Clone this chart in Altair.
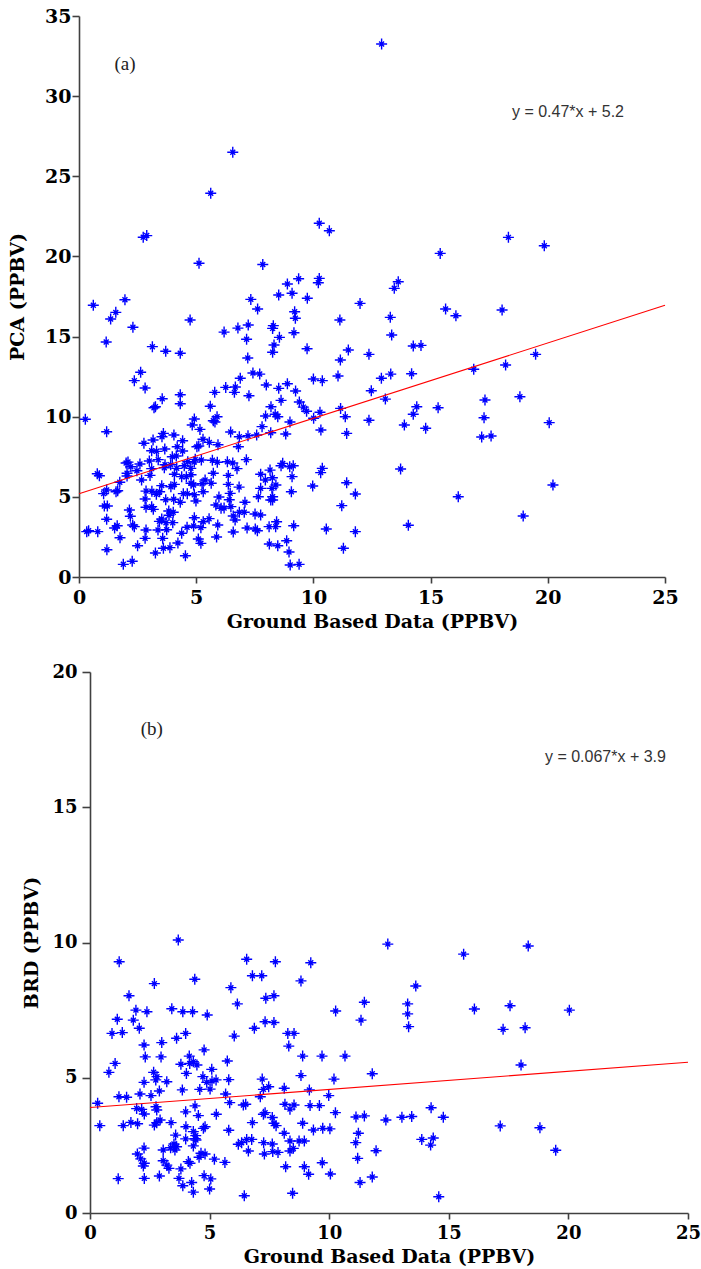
import altair as alt
import pandas as pd

# ---------------- Panel (a): PCA vs ground based data ----------------
a_x = [6.56, 5.62, 2.74, 2.89, 5.12, 7.84, 10.25, 10.68, 0.61, 1.96, 1.57, 1.35, 4.74, 7.33, 7.62, 8.52,
       8.89, 9.09, 9.37, 9.74, 10.21, 10.25, 9.2, 9.23, 11.13, 12.91, 18.32, 19.85, 15.41, 13.62, 13.45,
       11.99, 13.28, 15.64, 16.08, 18.05, 13.34, 12.37, 14.26, 14.59, 19.48, 12.9, 13.3, 14.19, 18.2,
       16.84, 12.47, 13.07, 18.81, 17.32, 14.41, 14.26, 15.32, 12.37, 13.88, 14.79, 17.28, 17.18, 17.58,
       20.06, 13.72, 11.79, 16.18, 20.22, 14.05, 18.95, 11.79, 2.3, 1.16, 3.13, 3.7, 4.32, 6.19, 6.78,
       7.22, 7.15, 7.2, 8.29, 8.26, 8.55, 8.32, 8.26, 9.17, 11.49, 9.73, 11.15, 11.05, 2.63, 2.36, 2.82,
       0.27, 1.18, 3.55, 3.2, 3.26, 4.32, 4.32, 5.6, 5.79, 6.26, 6.67, 6.63, 6.88, 7.25, 7.42, 7.71, 7.99,
       8.52, 8.89, 9.24, 8.62, 8.19, 9.4, 9.57, 9.71, 10.0, 10.38, 11.16, 11.36, 10.01, 10.32, 11.42, 9.0,
       8.82, 8.48, 8.37, 8.18, 7.81, 7.58, 7.21, 6.84, 6.47, 5.93, 5.56, 5.89, 5.8, 5.73, 4.92, 4.83, 5.16,
       5.29, 5.03, 5.11, 4.42, 4.19, 4.05, 3.6, 3.54, 3.16, 3.1, 2.77, 3.31, 3.66, 3.98, 4.17, 4.49, 4.58,
       4.78, 4.77, 4.38, 5.22, 4.92, 4.96, 5.69, 5.9, 6.33, 6.56, 6.74, 6.37, 7.14, 7.75, 8.15, 8.4, 8.23,
       8.69, 8.62, 8.99, 9.14, 9.09, 9.97, 10.31, 10.38, 11.42, 11.21, 0.78, 0.87, 1.05, 1.18, 1.08, 1.21,
       1.58, 1.65, 2.05, 2.05, 1.74, 2.21, 2.01, 2.09, 2.6, 2.47, 2.67, 3.0, 3.1, 3.03, 3.38, 3.67, 3.64,
       3.91, 4.15, 4.42, 4.64, 4.07, 3.92, 4.07, 3.53, 3.44, 3.3, 3.7, 4.04, 4.45, 4.62, 4.32, 4.78, 4.89,
       4.92, 4.99, 5.3, 5.25, 5.38, 5.73, 5.64, 5.97, 5.84, 5.55, 5.92, 5.2, 5.3, 4.89, 4.92, 4.61, 4.38,
       4.22, 4.54, 3.88, 3.6, 3.26, 3.57, 3.74, 4.0, 3.71, 3.53, 3.43, 3.84, 3.83, 4.02, 3.37, 3.1, 3.17,
       2.86, 2.82, 2.86, 3.11, 2.86, 2.82, 2.29, 2.36, 2.19, 2.15, 1.75, 1.52, 1.63, 1.19, 0.8, 0.41, 0.33,
       1.18, 1.89, 2.27, 2.5, 5.09, 5.2, 5.87, 6.58, 6.58, 6.66, 7.17, 7.52, 7.61, 7.05, 6.84, 6.48, 6.19,
       6.06, 6.41, 6.83, 6.45, 7.08, 7.51, 7.75, 8.11, 8.39, 8.43, 8.18, 8.26, 7.75, 7.95, 8.25, 8.26, 8.12,
       8.48, 8.86, 8.96, 9.01, 9.39, 9.16, 9.06, 10.55, 11.28, 10.28, 7.96, 6.8, 6.37, 7.65]
a_y = [26.5, 23.94, 21.2, 21.3, 19.57, 19.5, 22.07, 21.6, 16.95, 17.3, 16.51, 16.1, 16.03, 17.32, 16.72,
       17.59, 18.28, 17.7, 18.61, 17.39, 18.36, 18.63, 16.55, 16.14, 16.03, 33.25, 21.19, 20.67, 20.19,
       18.42, 18.01, 17.07, 16.2, 16.72, 16.3, 16.66, 15.1, 13.89, 14.41, 14.45, 13.89, 12.4, 12.66, 12.68,
       13.23, 12.96, 11.62, 11.1, 11.25, 11.04, 10.62, 10.15, 10.56, 9.78, 9.48, 9.28, 9.94, 8.73, 8.8,
       9.63, 6.74, 5.18, 5.01, 5.74, 3.23, 3.81, 2.83, 15.58, 14.66, 14.37, 14.08, 13.96, 15.28, 15.53,
       15.72, 14.83, 13.66, 15.68, 15.51, 14.95, 14.47, 14.02, 15.24, 14.16, 14.24, 13.54, 12.54, 12.77,
       12.25, 11.79, 9.84, 9.06, 11.12, 10.56, 10.62, 11.37, 10.81, 10.65, 11.52, 11.83, 11.85, 11.52,
       12.4, 11.31, 12.73, 12.66, 11.98, 11.77, 12.06, 11.6, 11.02, 10.62, 10.92, 10.6, 10.34, 12.35,
       12.25, 10.52, 10.0, 9.9, 9.17, 8.96, 9.67, 8.92, 10.0, 10.15, 9.0, 9.38, 8.86, 8.81, 8.75, 9.05,
       8.25, 8.4, 10.0, 9.67, 9.75, 9.86, 9.48, 9.21, 8.59, 8.13, 8.17, 8.5, 8.13, 8.86, 8.96, 8.75, 8.55,
       7.88, 8.34, 7.84, 7.99, 7.5, 6.78, 6.94, 6.26, 6.38, 6.78, 6.26, 7.3, 7.17, 7.34, 7.28, 7.16, 7.19,
       7.11, 6.76, 6.34, 7.32, 6.41, 6.67, 5.74, 5.53, 7.09, 6.94, 6.88, 6.94, 6.26, 5.68, 6.51, 6.78,
       5.88, 4.45, 6.44, 6.32, 5.2, 5.43, 4.43, 4.43, 5.32, 5.38, 6.47, 6.3, 5.91, 6.88, 7.11, 7.17, 7.05,
       6.63, 6.05, 7.24, 6.76, 6.34, 7.32, 7.0, 6.82, 7.0, 7.55, 7.86, 7.19, 6.41, 5.63, 5.78, 5.7, 5.32,
       5.16, 4.82, 4.85, 5.2, 5.2, 4.66, 5.85, 5.74, 5.13, 4.74, 5.32, 5.82, 6.05, 6.47, 5.85, 4.99, 4.49,
       3.64, 3.24, 3.08, 3.45, 3.18, 3.7, 3.1, 2.73, 2.12, 1.33, 1.83, 1.79, 1.5, 2.41, 2.95, 3.39, 3.39,
       3.62, 3.47, 3.85, 4.12, 4.04, 2.93, 4.39, 4.22, 4.35, 4.87, 5.36, 5.35, 2.93, 2.41, 3.24, 3.14,
       3.79, 4.18, 2.45, 3.06, 3.2, 1.7, 2.83, 2.89, 2.83, 3.6, 0.79, 0.98, 1.95, 2.37, 2.1, 2.5, 2.81,
       3.81, 3.56, 3.06, 2.99, 2.89, 4.04, 4.04, 4.39, 4.3, 4.29, 4.82, 5.61, 5.22, 4.66, 3.93, 3.87, 3.14,
       3.14, 3.45, 4.8, 4.8, 5.53, 6.05, 6.19, 5.01, 2.06, 1.95, 2.26, 1.56, 0.75, 0.79, 3.2, 5.32, 2.99,
       1.79, 10.28, 10.04, 8.13, 5.78, 5.01]
a_fit_x = [0, 25]
a_fit_y = [5.2, 16.95]
a_note = ["(a)", "y = 0.47*x + 5.2"]
a_note_x = [1.96, 18.47]
a_note_y = [32.0, 29.04]

# ---------------- Panel (b): BRD vs ground based data ----------------
b_x = [3.69, 1.22, 6.55, 7.75, 9.23, 6.79, 7.18, 4.38, 2.69, 8.82, 5.89, 1.63, 7.69, 7.35, 6.16, 3.42,
       1.92, 2.38, 3.88, 4.29, 4.9, 1.14, 1.81, 2.06, 0.92, 1.35, 3.62, 4.0, 6.03, 6.87, 7.32, 7.69, 8.27,
       8.53, 2.26, 3.0, 8.31, 4.77, 2.31, 2.97, 4.15, 4.17, 4.32, 4.47, 3.8, 5.74, 8.89, 9.7, 10.66, 1.05,
       0.79, 2.66, 2.8, 4.03, 5.09, 4.72, 3.21, 4.88, 5.1, 5.27, 5.8, 7.2, 7.47, 7.25, 8.12, 8.82, 10.2,
       9.17, 3.86, 4.59, 2.9, 1.21, 1.53, 2.09, 2.55, 5.67, 7.12, 9.98, 0.32, 1.95, 2.16, 2.27, 2.79, 2.76,
       4.0, 4.39, 4.53, 5.28, 5.84, 6.41, 6.51, 7.32, 8.15, 8.53, 9.2, 9.59, 10.26, 0.41, 1.39, 1.71, 1.99,
       2.69, 2.79, 2.93, 3.39, 4.01, 4.42, 4.32, 4.74, 4.81, 5.8, 6.79, 7.25, 7.69, 7.78, 8.89, 9.34, 9.73,
       10.03, 3.58, 4.0, 3.51, 3.62, 3.55, 3.06, 3.37, 4.32, 4.4, 4.43, 6.2, 6.34, 6.55, 6.76, 6.62, 7.26,
       8.12, 8.36, 8.5, 8.36, 8.74, 8.96, 7.64, 7.29, 7.86, 1.98, 2.12, 2.26, 2.27, 2.23, 3.06, 3.21, 3.3,
       3.8, 4.11, 4.18, 4.56, 4.64, 4.81, 5.2, 5.64, 8.18, 8.96, 9.71, 1.18, 2.27, 2.9, 3.72, 3.88, 4.25,
       4.32, 4.77, 5.05, 5.0, 6.45, 8.47, 9.14, 10.05, 12.45, 15.62, 18.32, 13.62, 11.47, 13.28, 13.28,
       13.32, 11.33, 16.07, 17.56, 20.04, 17.27, 18.19, 11.8, 18.02, 14.26, 11.12, 11.47, 12.37, 13.04,
       13.45, 14.77, 17.15, 18.81, 11.22, 11.11, 13.87, 14.35, 14.24, 11.96, 19.47, 11.19, 11.8, 11.29,
       14.58, 10.27, 8.36, 7.62, 7.62, 2.75, 2.26, 5.02]
b_y = [10.09, 9.29, 9.38, 9.29, 9.25, 8.77, 8.77, 8.64, 8.48, 8.58, 8.33, 8.03, 8.03, 7.94, 7.73, 7.55,
       7.5, 7.44, 7.44, 7.44, 7.32, 7.16, 7.13, 6.83, 6.64, 6.67, 6.46, 6.64, 6.54, 6.83, 7.07, 7.04, 6.64,
       6.64, 6.21, 6.3, 6.17, 6.03, 5.77, 5.77, 5.8, 5.53, 5.59, 5.47, 5.5, 5.62, 5.8, 5.8, 5.8, 5.53, 5.2,
       5.2, 5.04, 5.16, 5.31, 5.04, 4.85, 4.83, 4.88, 4.92, 4.93, 4.95, 4.67, 4.57, 4.61, 5.08, 4.95, 4.55,
       4.55, 4.57, 4.51, 4.3, 4.28, 4.4, 4.34, 4.4, 4.3, 4.34, 4.06, 3.86, 3.83, 3.66, 3.81, 3.93, 3.74,
       3.96, 3.6, 3.65, 4.08, 3.99, 4.02, 3.71, 4.02, 3.99, 3.97, 3.97, 3.71, 3.23, 3.23, 3.35, 3.3, 3.25,
       3.34, 3.44, 3.34, 3.19, 2.86, 3.01, 3.13, 3.19, 3.06, 3.34, 3.65, 3.32, 3.23, 3.32, 3.07, 3.13, 3.11,
       2.88, 2.74, 2.55, 2.45, 2.33, 2.33, 2.41, 2.48, 2.75, 2.7, 2.54, 2.6, 2.72, 2.72, 2.29, 2.6, 2.95,
       2.66, 2.39, 2.29, 2.66, 2.66, 2.27, 2.18, 2.24, 2.18, 2.0, 2.4, 1.84, 1.74, 1.93, 1.77, 1.65, 1.63,
       1.9, 1.84, 2.06, 2.21, 2.18, 1.99, 1.87, 1.71, 1.71, 1.86, 1.27, 1.28, 1.37, 1.28, 1.01, 1.13, 0.77,
       1.38, 1.26, 0.89, 0.64, 0.73, 1.43, 1.44, 9.94, 9.57, 9.87, 8.39, 7.79, 7.73, 7.36, 6.89, 7.13, 7.54,
       7.66, 7.5, 6.79, 6.85, 5.15, 5.47, 3.89, 3.55, 3.59, 3.44, 3.54, 3.57, 3.54, 3.22, 3.15, 2.95, 2.6,
       2.72, 2.77, 2.51, 2.3, 2.32, 2.02, 1.33, 1.13, 0.6, 7.47, 3.84, 3.53, 2.55, 4.92, 4.83, 4.58]
b_fit_x = [0, 25]
b_fit_y = [3.9, 5.575]
b_note = ["(b)", "y = 0.067*x + 3.9"]
b_note_x = [2.58, 19.02]
b_note_y = [17.89, 16.86]

# ---------------- styling ----------------
W, H = 701, 1269
STAR = "M-1,0L1,0M0,-1L0,1M-0.45,-0.45L0.45,0.45M-0.45,0.45L0.45,-0.45"
AX = "#404040"
SERIF = "DejaVu Serif"


def axis(orient, offset, values, title, tick, lpad, tpad, lsize):
    return alt.Axis(orient=orient, offset=offset, values=values, format="d", title=title,
                    grid=False, domainColor=AX, domainWidth=1.6, tickColor=AX, tickWidth=1.6,
                    tickSize=tick, labelPadding=lpad, labelFont=SERIF, labelFontSize=lsize,
                    labelFontWeight="bold", labelColor="black", labelFlush=False,
                    labelOverlap=False, titleFont=SERIF, titleFontSize=19,
                    titleFontWeight="bold", titleColor="black", titlePadding=tpad)


def panel(xs, ys, fx, fy, notes, nx, ny, xrange, yrange, ydomain, yvals,
          xoff, yoff, xt, yt, ytick, ylpad, ytpad, lsize):
    pts = pd.DataFrame({"x": xs, "y": ys})
    fit = pd.DataFrame({"x": fx, "y": fy})
    lab = pd.DataFrame({"x": nx, "y": ny, "t": notes})
    X = alt.X("x:Q", scale=alt.Scale(domain=[0, 25], range=xrange, nice=False, zero=False),
              axis=axis("bottom", yoff, [0, 5, 10, 15, 20, 25], xt, 6, 5, 5, lsize))
    Y = alt.Y("y:Q", scale=alt.Scale(domain=ydomain, range=yrange, nice=False, zero=False),
              axis=axis("left", xoff, yvals, yt, ytick, ylpad, ytpad, lsize))
    p = alt.Chart(pts).mark_point(shape=STAR, size=121, filled=False, color="#0000ff",
                                  strokeWidth=1.4, opacity=1)
    l = alt.Chart(fit).mark_line(color="#ff0000", strokeWidth=1.1)
    t1 = alt.Chart(lab.iloc[[0]]).mark_text(font="Liberation Serif", fontSize=19, color="#222222",
                                             align="center", baseline="middle").encode(text="t:N")
    t2 = alt.Chart(lab.iloc[[1]]).mark_text(font="Liberation Sans", fontSize=16, color="#333333",
                                             align="left", baseline="middle").encode(text="t:N")
    return alt.layer(p, l, t1, t2).encode(x=X, y=Y)


top = panel(a_x, a_y, a_fit_x, a_fit_y, a_note, a_note_x, a_note_y,
            [79, 665], [577, 16], [0, 35], [0, 5, 10, 15, 20, 25, 30, 35],
            -79, 577 - H, "Ground Based Data (PPBV)", "PCA (PPBV)", 7, 1, 17, 19)
bottom = panel(b_x, b_y, b_fit_x, b_fit_y, b_note, b_note_x, b_note_y,
               [90, 688], [1213, 672], [0, 20], [0, 5, 10, 15, 20],
               -90, 1213 - H, "Ground Based Data (PPBV)", "BRD (PPBV)", 8, 5, 10, 18)

chart = (
    alt.layer(top, bottom)
    .resolve_scale(x="independent", y="independent")
    .resolve_axis(x="independent", y="independent")
    .properties(width=W, height=H, autosize="none", padding=0, background="white")
    .configure_view(stroke=None)
)

chart.save("out.html", embed_options={"renderer": "svg", "actions": False})
